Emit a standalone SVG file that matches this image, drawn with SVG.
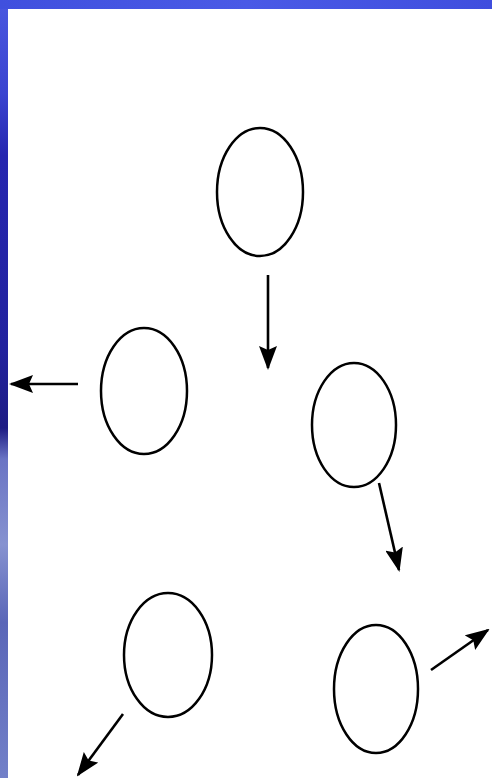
<svg xmlns="http://www.w3.org/2000/svg" width="492" height="778" viewBox="0 0 492 778">
<defs>
<linearGradient id="lb" x1="0" y1="0" x2="0" y2="1">
<stop offset="0" stop-color="#4a58e0"/>
<stop offset="0.12" stop-color="#3a44d0"/>
<stop offset="0.2" stop-color="#2626b0"/>
<stop offset="0.45" stop-color="#22229e"/>
<stop offset="0.55" stop-color="#1e1c84"/>
<stop offset="0.59" stop-color="#6a74c4"/>
<stop offset="0.7" stop-color="#8692d0"/>
<stop offset="0.8" stop-color="#5a66b8"/>
<stop offset="1" stop-color="#7280c8"/>
</linearGradient>
<linearGradient id="tb" x1="0" y1="0" x2="1" y2="0">
<stop offset="0" stop-color="#4050de"/>
<stop offset="0.5" stop-color="#4a5ae6"/>
<stop offset="1" stop-color="#3f4ede"/>
</linearGradient>
<marker id="ah" viewBox="0 0 24 18" refX="22" refY="9" markerWidth="24" markerHeight="18" markerUnits="userSpaceOnUse" orient="auto">
<path d="M0,0 L24,9 L0,18 L4,9 Z" fill="#000"/>
</marker>
<style>
.n{fill:#fff;stroke:#000;stroke-width:2.5}
.c{stroke:#000;stroke-width:2.6;fill:none;marker-end:url(#ah)}
</style>
</defs>
<rect width="492" height="778" fill="#fff"/>
<rect x="0" y="0" width="8" height="778" fill="url(#lb)"/>
<rect x="0" y="0" width="492" height="9" fill="url(#tb)"/>
<g id="node-top"><ellipse class="n" cx="260" cy="192" rx="43" ry="64"/></g>
<g id="node-left"><ellipse class="n" cx="144" cy="391" rx="43" ry="63"/></g>
<g id="node-mid"><ellipse class="n" cx="354" cy="425" rx="42" ry="62"/></g>
<g id="node-bl"><ellipse class="n" cx="168" cy="655" rx="44" ry="62"/></g>
<g id="node-br"><ellipse class="n" cx="376" cy="689" rx="42" ry="64"/></g>
<g id="connectors">
<line class="c" x1="268" y1="275" x2="268" y2="368"/>
<line class="c" x1="78" y1="384" x2="11" y2="384"/>
<line class="c" x1="379" y1="483" x2="399" y2="570"/>
<line class="c" x1="123" y1="714" x2="78" y2="775"/>
<line class="c" x1="431" y1="670" x2="488" y2="630"/>
</g>
</svg>
